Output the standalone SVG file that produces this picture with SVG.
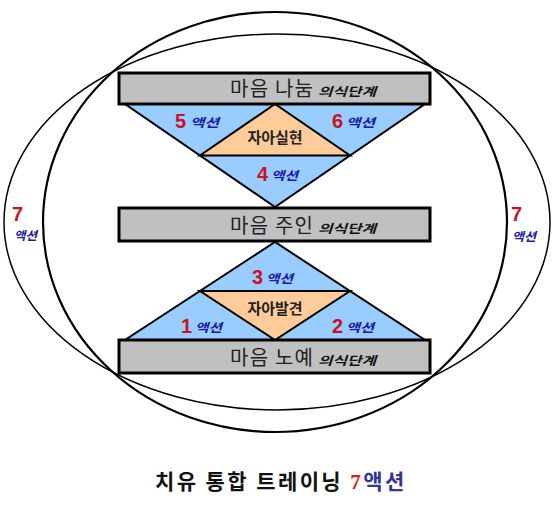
<svg xmlns="http://www.w3.org/2000/svg" width="555" height="505" viewBox="0 0 555 505">
<style>
.ring{fill:none;stroke:#000}
.box{fill:#c0c0c0;stroke:#000;stroke-width:3}
.tri{fill:#99ccff;stroke:#000;stroke-width:2;stroke-linejoin:miter}
.core{fill:#ffcc99;stroke:#000;stroke-width:2}
.big{font-family:"Noto Sans CJK KR",sans-serif;font-size:20px;fill:#222}
.lvl{font-family:"Noto Sans CJK KR",sans-serif;font-size:12px;font-weight:bold;font-style:italic;fill:#111}
.mid{font-family:"Noto Sans CJK KR",sans-serif;font-size:15px;font-weight:bold;fill:#222}
.num{font-family:"Liberation Sans",sans-serif;font-size:20px;font-weight:bold;fill:#cc1122}
.act{font-family:"Noto Sans CJK KR",sans-serif;font-size:12px;font-weight:bold;font-style:italic;fill:#1a1aa8}
.title{font-family:"Noto Sans CJK KR",sans-serif;font-size:21px;font-weight:bold;fill:#111;letter-spacing:2.4px}
</style>
<rect width="555" height="505" fill="#fff"/>
<g id="rings">
<ellipse class="ring" cx="277" cy="222" rx="273" ry="188" stroke-width="1.5" stroke="#333"/>
<ellipse class="ring" cx="275" cy="222" rx="232" ry="210" stroke-width="2.2"/>
</g>
<g id="upper-triangle">
<polygon class="tri" points="125,104 425,104 275,207"/>
<polygon class="core" points="275,104 200,155.5 350,155.5"/>
<text class="mid" x="275" y="143" text-anchor="middle">자아실현</text>
<text class="num" x="175" y="128">5</text><text class="act" x="190" y="127" textLength="29" lengthAdjust="spacingAndGlyphs">액션</text>
<text class="num" x="332" y="128">6</text><text class="act" x="346" y="127" textLength="29" lengthAdjust="spacingAndGlyphs">액션</text>
<text class="num" x="257" y="181">4</text><text class="act" x="271" y="180" textLength="27" lengthAdjust="spacingAndGlyphs">액션</text>
</g>
<g id="lower-triangle">
<polygon class="tri" points="125,340 425,340 275,242"/>
<polygon class="core" points="275,340 200,291 350,291"/>
<text class="mid" x="275" y="314" text-anchor="middle">자아발견</text>
<text class="num" x="252" y="284">3</text><text class="act" x="266" y="283" textLength="27" lengthAdjust="spacingAndGlyphs">액션</text>
<text class="num" x="181" y="333">1</text><text class="act" x="195" y="332" textLength="27" lengthAdjust="spacingAndGlyphs">액션</text>
<text class="num" x="332" y="333">2</text><text class="act" x="346" y="332" textLength="28" lengthAdjust="spacingAndGlyphs">액션</text>
</g>
<g id="box-top">
<rect class="box" x="119" y="73" width="311" height="31"/>
<text class="big" x="230" y="96" textLength="83" lengthAdjust="spacing">마음 나눔</text>
<text class="lvl" x="318" y="96" textLength="58" lengthAdjust="spacingAndGlyphs">의식단계</text>
</g>
<g id="box-mid">
<rect class="box" x="119" y="208" width="311" height="33"/>
<text class="big" x="230" y="233" textLength="83" lengthAdjust="spacing">마음 주인</text>
<text class="lvl" x="318" y="233" textLength="58" lengthAdjust="spacingAndGlyphs">의식단계</text>
</g>
<g id="box-bottom">
<rect class="box" x="119" y="340" width="311" height="33"/>
<text class="big" x="230" y="365" textLength="83" lengthAdjust="spacing">마음 노예</text>
<text class="lvl" x="318" y="365" textLength="58" lengthAdjust="spacingAndGlyphs">의식단계</text>
</g>
<g id="side-left">
<text class="num" x="12" y="221">7</text>
<text class="act" x="14" y="240" textLength="23" lengthAdjust="spacingAndGlyphs">액션</text>
</g>
<g id="side-right">
<text class="num" x="511" y="221">7</text>
<text class="act" x="512" y="241" textLength="24" lengthAdjust="spacingAndGlyphs">액션</text>
</g>
<g id="title">
<text class="title" x="155" y="489">치유 통합 트레이닝 <tspan font-family="Liberation Serif,serif" fill="#dd2200">7</tspan><tspan fill="#333399">액션</tspan></text>
</g>
</svg>
